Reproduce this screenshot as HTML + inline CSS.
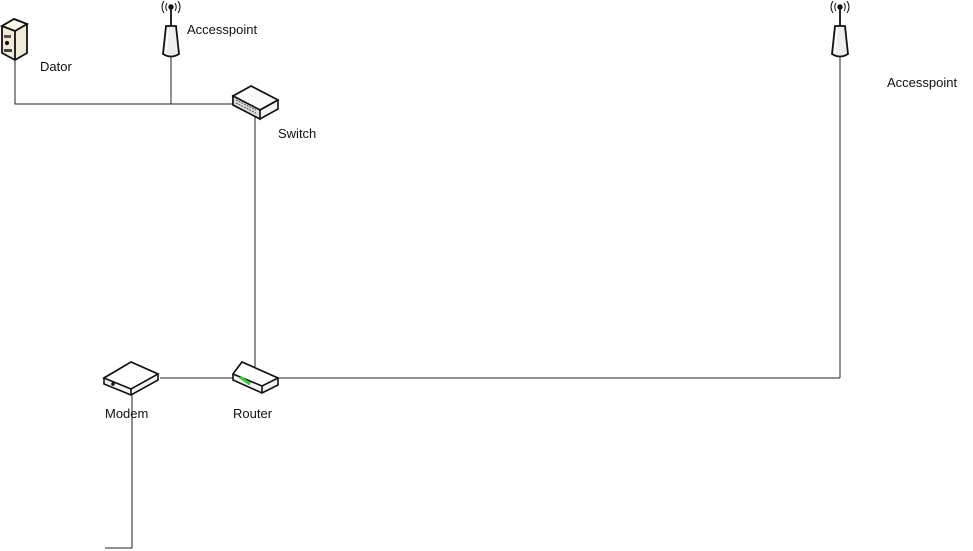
<!DOCTYPE html>
<html><head><meta charset="utf-8"><style>
html,body{margin:0;padding:0;background:#fff;width:973px;height:551px;overflow:hidden}
svg{display:block}
text{font-family:"Liberation Sans",sans-serif;font-size:13px;fill:#111}
</style></head><body>
<svg width="973" height="551" viewBox="0 0 973 551" xmlns="http://www.w3.org/2000/svg">
<g stroke="#222" stroke-width="1" fill="none">
<polyline points="15,55 15,104 245,104"/>
<line x1="171" y1="50" x2="171" y2="104"/>
<line x1="255" y1="95" x2="255" y2="378"/>
<line x1="160" y1="378" x2="840" y2="378"/>
<line x1="840" y1="50" x2="840" y2="378"/>
<polyline points="105,548 132,548 132,378"/>
</g>
<!-- Dator -->
<g stroke="#111" stroke-width="1.8">
<polygon points="2,26 14,19 27,24 27,53 15,60 2,53" fill="#f2ead8"/>
<polygon points="2,26 14,19 27,24 15,31" fill="#fbf6ea"/>
<line x1="15" y1="31" x2="15" y2="60"/>
<rect x="4" y="35" width="7" height="3" fill="#555" stroke="none"/>
<circle cx="7" cy="43" r="1.2" fill="#333"/>
<rect x="4" y="49" width="8" height="3" fill="#444" stroke="none"/>
</g>
<!-- Accesspoints -->
<g id="ap" stroke="#111" stroke-width="1.8">
<line x1="171" y1="7" x2="171" y2="26"/>
<circle cx="171" cy="7" r="1.8" fill="#222"/>
<path d="M167,3 Q164.5,7 167,11 M175,3 Q177.5,7 175,11 M164,1 Q160,7 164,13 M178,1 Q182,7 178,13" fill="none" stroke-width="1"/>
<path d="M166,26 L176,26 L179,54 Q171,59 163,54 Z" fill="#eee"/>
<path d="M168,29 L166,52" stroke="#fff" stroke-width="1.5"/>
</g>
<use href="#ap" transform="translate(669,0)"/>
<!-- Switch -->
<g stroke="#111" stroke-width="1.6">
<polygon points="233,96 251,86 278,100 278,109 260,119 233,105" fill="#f4f4f4"/>
<polygon points="233,96 251,86 278,100 260,110" fill="#fafafa"/>
<polygon points="233,96 260,110 260,119 233,105" fill="#ddd"/>
<line x1="260" y1="110" x2="278" y2="100"/>
<path d="M236,100 l20,10 M236,103 l20,10" stroke="#555" stroke-width="1" stroke-dasharray="2,1"/>
</g>
<!-- Modem -->
<g stroke="#111" stroke-width="1.6">
<polygon points="104,378 131,362 158,374 158,380 131,395 104,384" fill="#f4f4f4"/>
<polygon points="104,378 131,362 158,374 131,389" fill="#fff"/>
<line x1="131" y1="389" x2="131" y2="395"/>
<circle cx="113" cy="384" r="1" fill="#333"/>
</g>
<!-- Router -->
<g stroke="#111" stroke-width="1.6">
<polygon points="233,374 242,362 278,378 278,385 262,393 233,380" fill="#f4f4f4"/>
<polygon points="233,374 242,362 278,378 262,386" fill="#fff"/>
<line x1="262" y1="386" x2="262" y2="393"/>
<path d="M240,377 l10,7" stroke="#3c3" stroke-width="3"/>
</g>
<text x="40" y="71">Dator</text>
<text x="187" y="34">Accesspoint</text>
<text x="278" y="138">Switch</text>
<text x="887" y="87">Accesspoint</text>
<text x="105" y="418">Modem</text>
<text x="233" y="418">Router</text>
</svg>
</body></html>
